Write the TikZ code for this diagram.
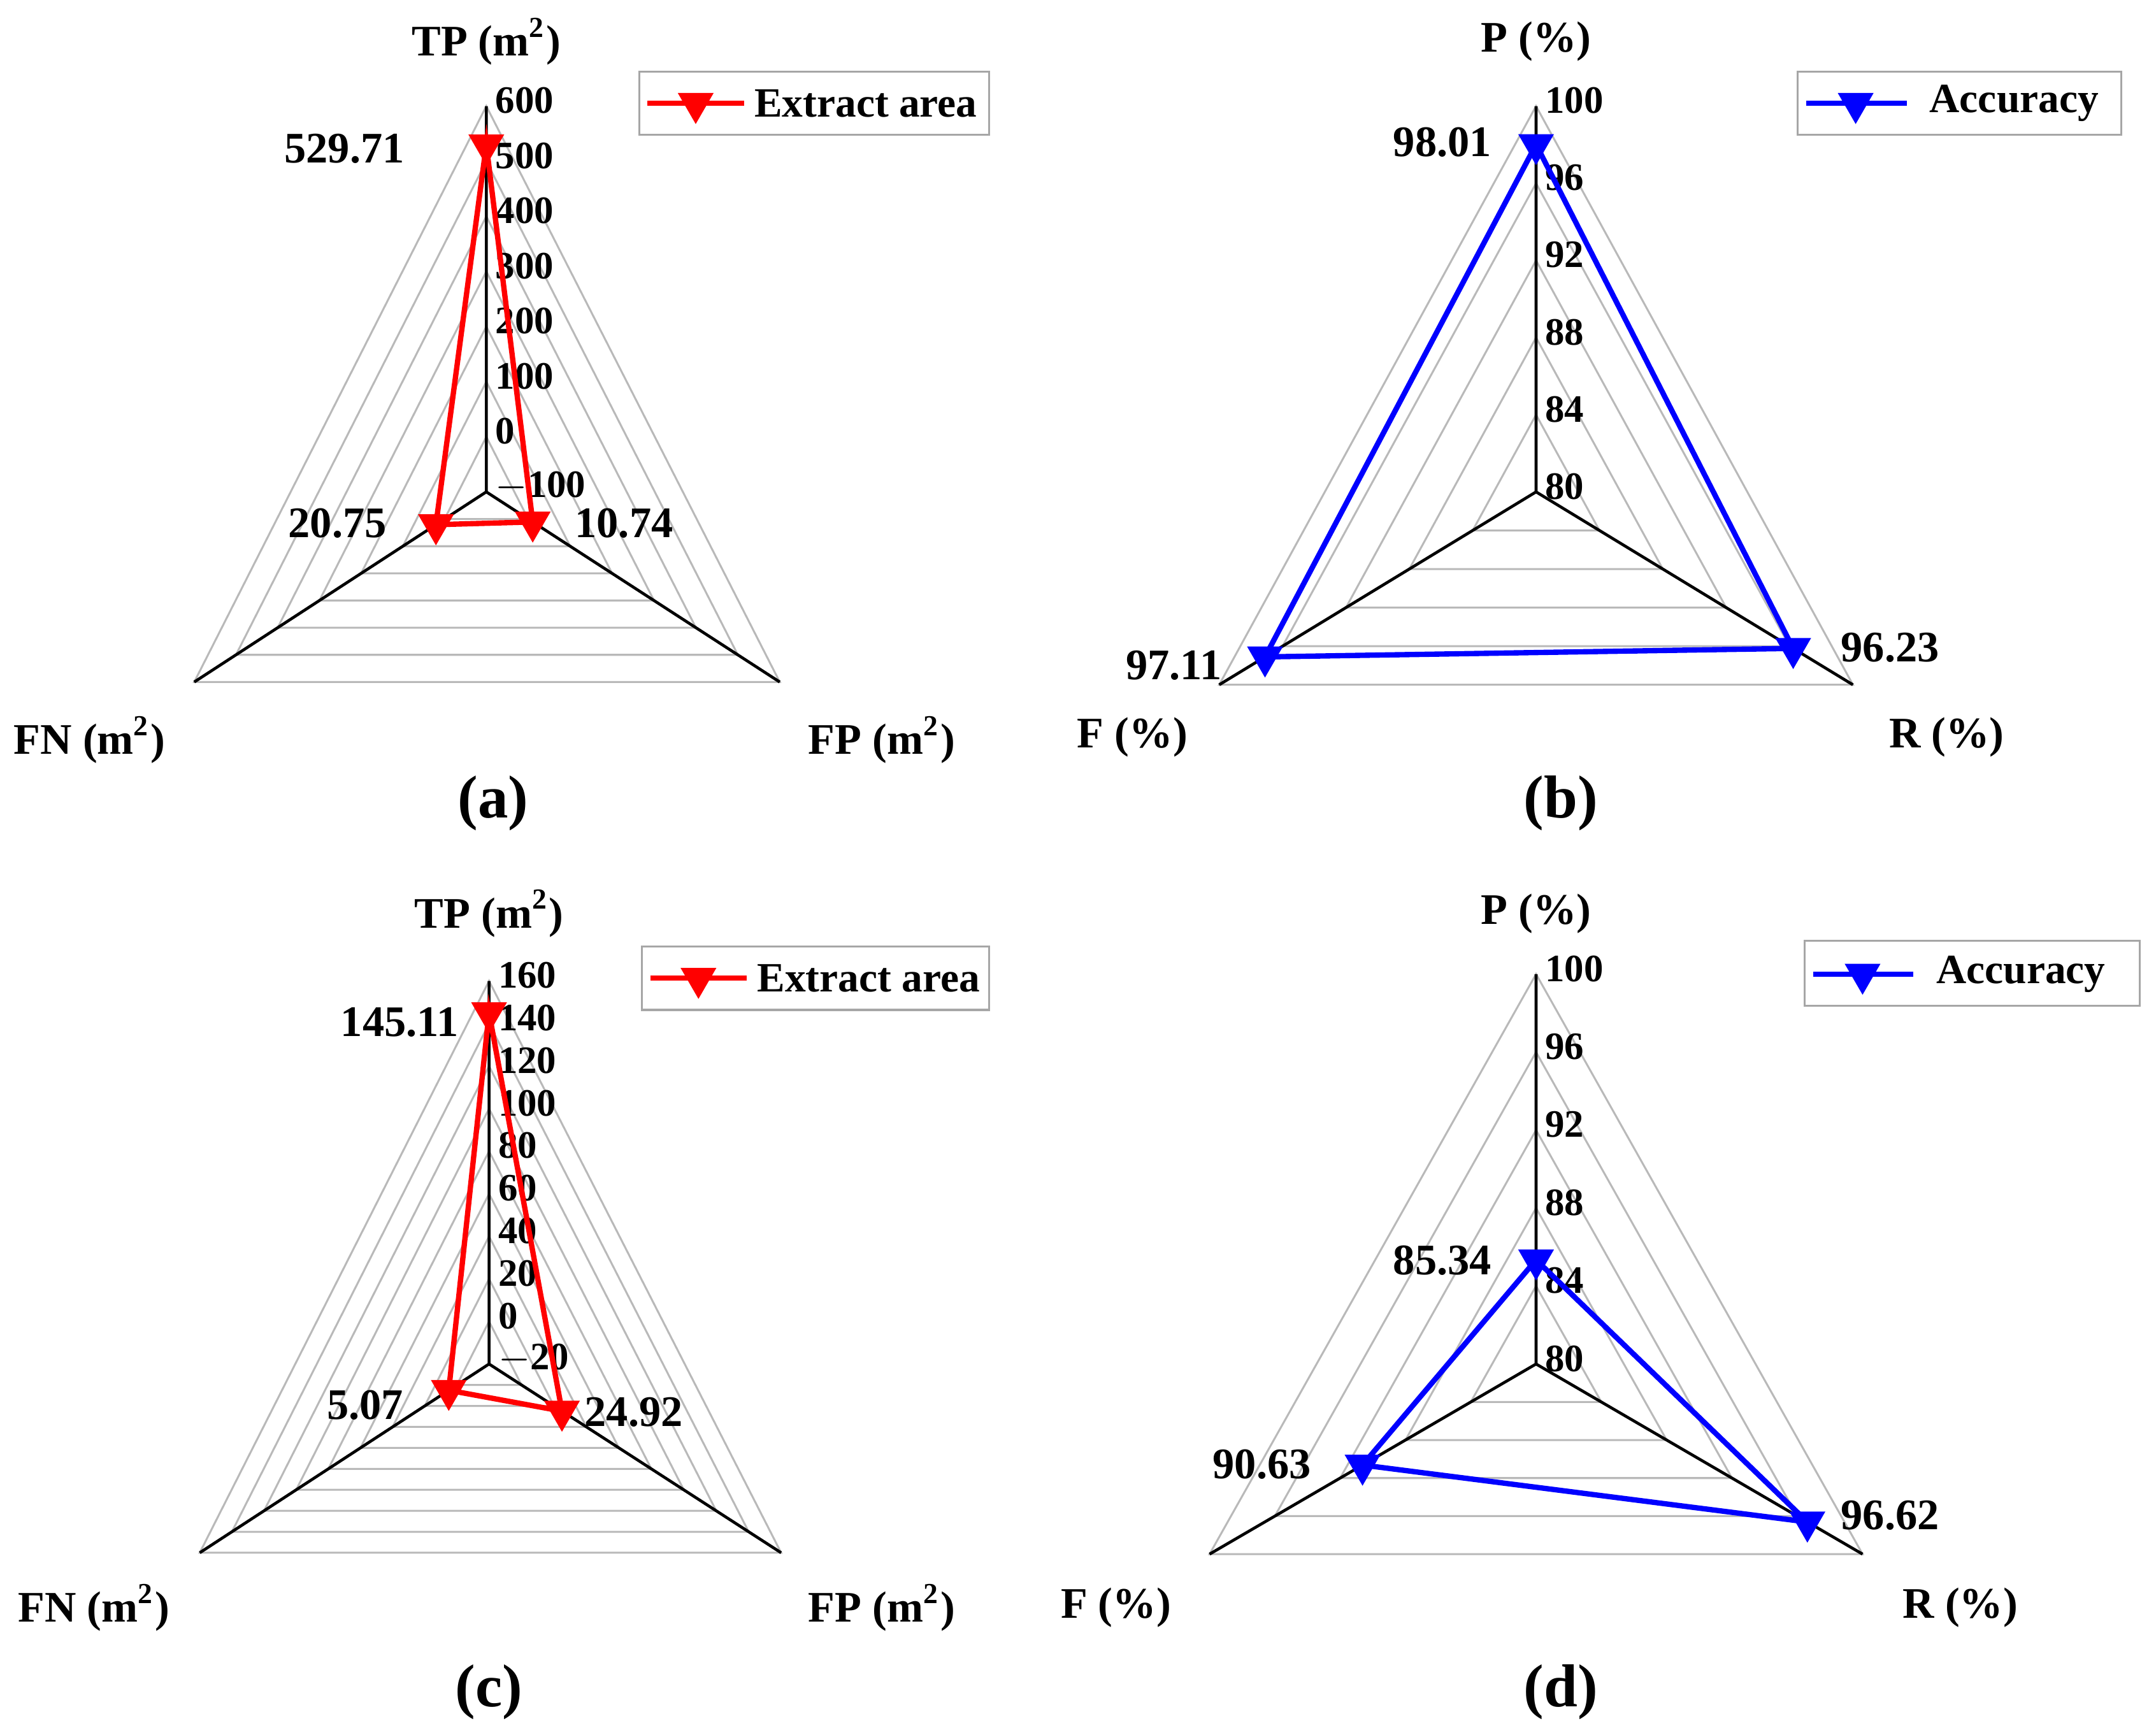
\documentclass[tikz,border=0pt]{standalone}
\usepackage{fontspec}
\setmainfont{Liberation Serif}
\usetikzlibrary{calc,shapes.geometric}
\begin{document}
\begin{tikzpicture}[x=0.01cm,y=-0.01cm,
  grid/.style={gray!55,line width=0.4pt},
  axis/.style={black,line width=0.6pt},
  tick/.style={font=\fontsize{8}{8}\selectfont\bfseries,anchor=west,inner sep=0pt,yshift=0.04cm},
  val/.style={font=\fontsize{9}{10}\selectfont\bfseries,inner sep=0pt},
  lab/.style={font=\fontsize{9}{10}\selectfont\bfseries,inner sep=0pt},
  legt/.style={font=\fontsize{8.6}{10}\selectfont\bfseries,inner sep=0pt,anchor=west},
  pan/.style={font=\fontsize{12.5}{13}\selectfont\bfseries,inner sep=0pt},
  mk/.style={regular polygon,regular polygon sides=3,shape border rotate=180,fill=#1,draw=none,inner sep=0pt,minimum size=0.30cm},
  dl/.style={#1,line width=1.1pt},
  leg/.style={draw=gray!70,line width=0.4pt}]
\useasboundingbox (0,0) rectangle (1565,1259);

% ---------- (a)
\begin{scope}[shift={(353,357)}]
\coordinate (aC) at (0,0); \coordinate (aT) at (0,-280);
\coordinate (aL) at (-212,138); \coordinate (aR) at (213,138);
\foreach \k in {1,...,7}{\draw[grid] ($(aC)!\k/7!(aT)$) -- ($(aC)!\k/7!(aR)$) -- ($(aC)!\k/7!(aL)$) -- cycle;}
\draw[axis] (aC)--(aT) (aC)--(aL) (aC)--(aR);
\foreach \v [count=\i from 0] in {$-$100,0,100,200,300,400,500,600}{\node[tick] (at\i) at (6,-40*\i) {\v};}
\coordinate (a1) at ($(aC)!0.8996!(aT)$);
\coordinate (a2) at ($(aC)!0.1582!(aR)$);
\coordinate (a3) at ($(aC)!0.1725!(aL)$);
\draw[dl=red] (a1)--(a2)--(a3)--cycle;
\foreach \p in {a1,a2,a3}{\node[mk=red] at (\p) {};}
\end{scope}
\node[val] (av1) at (250,108) {529.71};
\node[val] (av2) at (453,380) {10.74};
\node[val] (av3) at (245,380) {20.75};
\node[lab] (alT) at (353,30) {TP (m\textsuperscript{2})};
\node[lab] (alL) at (65,537) {FN (m\textsuperscript{2})};
\node[lab] (alR) at (640,537) {FP (m\textsuperscript{2})};
\node[pan] (ap) at (358,583) {(a)};
\draw[leg] (464,52) rectangle (718,98);
\coordinate (alg1) at (470,75); \coordinate (alg2) at (540,75);
\draw[dl=red] (alg1)--(alg2);
\node[mk=red] (alm) at (505,75) {};
\node[legt] (alt) at (547,75) {Extract area};

% ---------- (b)
\begin{scope}[shift={(1115,357)}]
\coordinate (bC) at (0,0); \coordinate (bT) at (0,-280);
\coordinate (bL) at (-230,140); \coordinate (bR) at (230,140);
\foreach \k in {1,...,5}{\draw[grid] ($(bC)!\k/5!(bT)$) -- ($(bC)!\k/5!(bR)$) -- ($(bC)!\k/5!(bL)$) -- cycle;}
\draw[axis] (bC)--(bT) (bC)--(bL) (bC)--(bR);
\foreach \v [count=\i from 0] in {80,84,88,92,96,100}{\node[tick] (bt\i) at (6,-56*\i) {\v};}
\coordinate (b1) at ($(bC)!0.9005!(bT)$);
\coordinate (b2) at ($(bC)!0.8115!(bR)$);
\coordinate (b3) at ($(bC)!0.8555!(bL)$);
\draw[dl=blue] (b1)--(b2)--(b3)--cycle;
\foreach \p in {b1,b2,b3}{\node[mk=blue] at (\p) {};}
\end{scope}
\node[val] (bv1) at (1047,103) {98.01};
\node[val] (bv2) at (1372,470) {96.23};
\node[val] (bv3) at (852,483) {97.11};
\node[lab] (blT) at (1115,30) {P (\%)};
\node[lab] (blL) at (822,535) {F (\%)};
\node[lab] (blR) at (1413,535) {R (\%)};
\node[pan] (bp) at (1133,583) {(b)};
\draw[leg] (1305,52) rectangle (1540,98);
\coordinate (blg1) at (1311,75); \coordinate (blg2) at (1384,75);
\draw[dl=blue] (blg1)--(blg2);
\node[mk=blue] (blm) at (1347,75) {};
\node[legt] (blt) at (1400,75) {Accuracy};

% ---------- (c)
\begin{scope}[shift={(355,990)}]
\coordinate (cC) at (0,0); \coordinate (cT) at (0,-278);
\coordinate (cL) at (-210,137); \coordinate (cR) at (212,137);
\foreach \k in {1,...,9}{\draw[grid] ($(cC)!\k/9!(cT)$) -- ($(cC)!\k/9!(cR)$) -- ($(cC)!\k/9!(cL)$) -- cycle;}
\draw[axis] (cC)--(cT) (cC)--(cL) (cC)--(cR);
\foreach \v [count=\i from 0] in {$-$20,0,20,40,60,80,100,120,140,160}{\node[tick] (ct\i) at (6,-30.9*\i) {\v};}
\coordinate (c1) at ($(cC)!0.9173!(cT)$);
\coordinate (c2) at ($(cC)!0.2496!(cR)$);
\coordinate (c3) at ($(cC)!0.1393!(cL)$);
\draw[dl=red] (c1)--(c2)--(c3)--cycle;
\foreach \p in {c1,c2,c3}{\node[mk=red] at (\p) {};}
\end{scope}
\node[val] (cv1) at (290,742) {145.11};
\node[val] (cv2) at (460,1025) {24.92};
\node[val] (cv3) at (265,1020) {5.07};
\node[lab] (clT) at (355,663) {TP (m\textsuperscript{2})};
\node[lab] (clL) at (68,1167) {FN (m\textsuperscript{2})};
\node[lab] (clR) at (640,1167) {FP (m\textsuperscript{2})};
\node[pan] (cp) at (355,1228) {(c)};
\draw[leg] (466,687) rectangle (718,733);
\coordinate (clg1) at (472,710); \coordinate (clg2) at (542,710);
\draw[dl=red] (clg1)--(clg2);
\node[mk=red] (clm) at (507,710) {};
\node[legt] (clt) at (549,710) {Extract area};

% ---------- (d)
\begin{scope}[shift={(1115,990)}]
\coordinate (dC) at (0,0); \coordinate (dT) at (0,-283);
\coordinate (dL) at (-237,138); \coordinate (dR) at (237,138);
\foreach \k in {1,...,5}{\draw[grid] ($(dC)!\k/5!(dT)$) -- ($(dC)!\k/5!(dR)$) -- ($(dC)!\k/5!(dL)$) -- cycle;}
\draw[axis] (dC)--(dT) (dC)--(dL) (dC)--(dR);
\foreach \v [count=\i from 0] in {80,84,88,92,96,100}{\node[tick] (dt\i) at (6,-56.6*\i) {\v};}
\coordinate (d1) at ($(dC)!0.267!(dT)$);
\coordinate (d2) at ($(dC)!0.831!(dR)$);
\coordinate (d3) at ($(dC)!0.5315!(dL)$);
\draw[dl=blue] (d1)--(d2)--(d3)--cycle;
\foreach \p in {d1,d2,d3}{\node[mk=blue] at (\p) {};}
\end{scope}
\node[val] (dv1) at (1047,915) {85.34};
\node[val] (dv2) at (1372,1100) {96.62};
\node[val] (dv3) at (916,1063) {90.63};
\node[lab] (dlT) at (1115,663) {P (\%)};
\node[lab] (dlL) at (810,1167) {F (\%)};
\node[lab] (dlR) at (1423,1167) {R (\%)};
\node[pan] (dp) at (1133,1228) {(d)};
\draw[leg] (1310,683) rectangle (1553,730);
\coordinate (dlg1) at (1316,707); \coordinate (dlg2) at (1389,707);
\draw[dl=blue] (dlg1)--(dlg2);
\node[mk=blue] (dlm) at (1352,707) {};
\node[legt] (dlt) at (1405,707) {Accuracy};
\end{tikzpicture}
\end{document}
